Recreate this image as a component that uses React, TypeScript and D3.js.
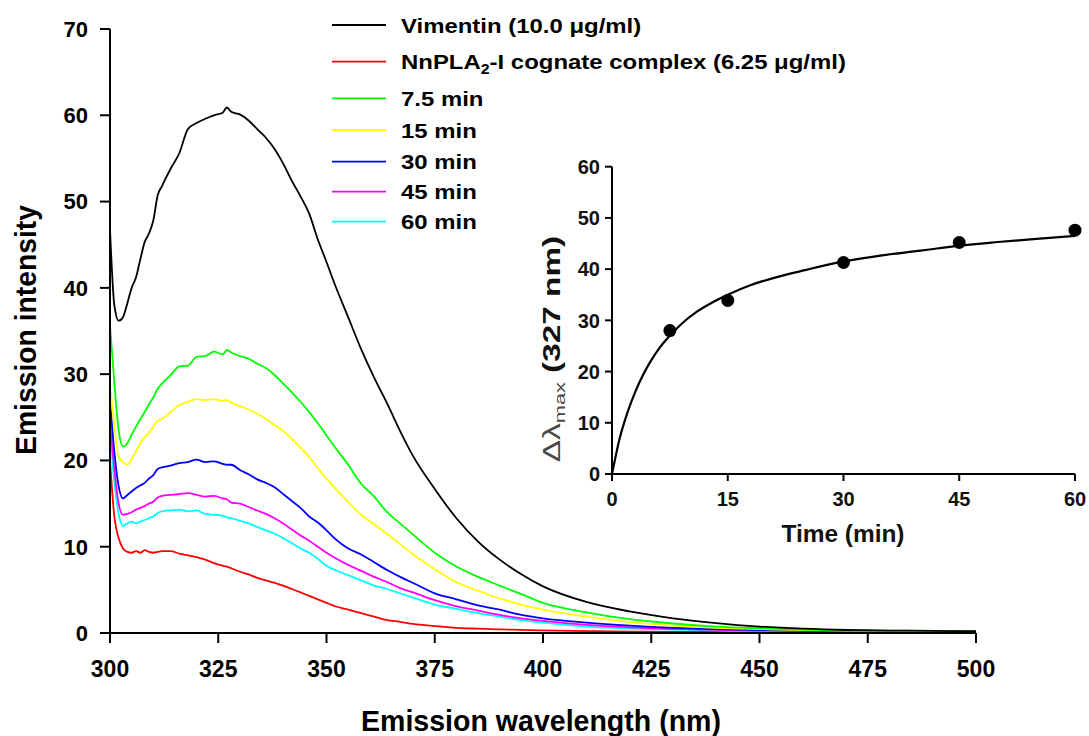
import React from "react";
import * as d3 from "d3";

// ---------- Main spectra data ----------
const wavelengths = [300, 301, 302, 303, 304, 305, 306, 307, 308, 309, 310, 311, 312, 314, 316, 318, 320, 322, 324, 326, 327, 328, 330, 332, 334, 336, 338, 340, 342, 344, 346, 348, 350, 352, 355, 358, 361, 364, 367, 370, 375, 380, 385, 390, 395, 400, 410, 420, 430, 440, 450, 460, 470, 480, 490, 500];

const vimentin = [46.8, 38.0, 36.2, 36.6, 38.2, 40.0, 41.2, 43.3, 45.3, 46.3, 47.8, 50.7, 51.8, 53.8, 55.6, 58.4, 59.1, 59.6, 60.0, 60.3, 60.9, 60.4, 60.1, 59.4, 58.4, 57.4, 56.1, 54.4, 52.4, 50.6, 48.6, 45.6, 43.0, 40.3, 36.6, 32.9, 29.6, 26.6, 23.4, 20.5, 16.7, 13.3, 10.6, 8.5, 6.8, 5.4, 3.6, 2.5, 1.7, 1.15, 0.75, 0.5, 0.35, 0.28, 0.24, 0.2];
const complex = [20.0, 13.5, 11.0, 9.8, 9.4, 9.3, 9.5, 9.3, 9.6, 9.4, 9.3, 9.4, 9.5, 9.5, 9.2, 9.0, 8.8, 8.5, 8.1, 7.8, 7.7, 7.5, 7.1, 6.8, 6.4, 6.1, 5.8, 5.5, 5.1, 4.7, 4.3, 3.9, 3.5, 3.1, 2.7, 2.3, 1.9, 1.5, 1.3, 1.05, 0.8, 0.6, 0.5, 0.42, 0.36, 0.3, 0.22, 0.17, 0.14, 0.12, 0.1, 0.09, 0.08, 0.08, 0.07, 0.07];
const min7_5 = [35.7, 29.0, 23.5, 21.6, 22.0, 23.0, 23.9, 24.8, 25.6, 26.5, 27.3, 28.3, 28.9, 29.9, 30.9, 31.0, 32.0, 32.1, 32.6, 32.3, 32.8, 32.5, 32.1, 31.8, 31.2, 30.7, 29.9, 28.9, 27.9, 26.8, 25.6, 24.3, 22.9, 21.5, 19.5, 17.3, 15.8, 14.0, 12.7, 11.4, 9.3, 7.7, 6.5, 5.5, 4.5, 3.5, 2.4, 1.6, 1.1, 0.75, 0.55, 0.4, 0.32, 0.28, 0.25, 0.22];
const min15 = [29.0, 24.0, 20.5, 19.8, 19.5, 20.2, 21.0, 22.0, 22.7, 23.2, 23.9, 24.6, 24.8, 25.6, 26.4, 26.8, 27.1, 27.0, 27.1, 26.9, 27.0, 26.7, 26.3, 25.9, 25.4, 24.8, 24.1, 23.4, 22.5, 21.5, 20.4, 19.1, 17.9, 16.8, 15.2, 13.7, 12.6, 11.5, 10.3, 9.1, 7.4, 5.9, 4.9, 4.0, 3.3, 2.7, 1.9, 1.25, 0.85, 0.6, 0.45, 0.33, 0.27, 0.24, 0.22, 0.2];
const min30 = [27.0, 21.0, 17.0, 15.6, 16.0, 16.4, 16.8, 17.1, 17.4, 17.9, 18.3, 19.0, 19.2, 19.4, 19.7, 19.8, 20.1, 19.8, 19.9, 19.6, 19.5, 19.5, 18.9, 18.4, 17.8, 17.4, 16.9, 16.1, 15.3, 14.5, 13.5, 12.8, 11.9, 10.9, 9.8, 9.1, 8.2, 7.3, 6.5, 5.8, 4.6, 3.9, 3.2, 2.7, 2.1, 1.7, 1.2, 0.85, 0.6, 0.45, 0.35, 0.27, 0.22, 0.19, 0.17, 0.15];
const min45 = [24.5, 19.0, 15.0, 13.7, 13.8, 14.0, 14.3, 14.5, 14.7, 15.0, 15.2, 15.7, 15.9, 16.0, 16.1, 16.2, 16.0, 15.8, 15.9, 15.6, 15.5, 15.1, 15.0, 14.6, 14.2, 13.8, 13.3, 12.7, 12.0, 11.3, 10.7, 10.0, 9.3, 8.7, 7.9, 7.2, 6.5, 5.9, 5.2, 4.7, 3.8, 3.1, 2.6, 2.1, 1.7, 1.4, 0.93, 0.65, 0.48, 0.36, 0.28, 0.22, 0.18, 0.16, 0.15, 0.14];
const min60 = [23.6, 17.5, 13.8, 12.4, 12.7, 12.9, 12.7, 12.9, 13.1, 13.3, 13.5, 13.9, 14.1, 14.2, 14.3, 14.1, 14.2, 13.8, 13.7, 13.6, 13.4, 13.3, 13.0, 12.7, 12.3, 11.9, 11.5, 11.0, 10.4, 9.8, 9.3, 8.6, 7.8, 7.3, 6.7, 6.1, 5.5, 5.1, 4.6, 4.1, 3.3, 2.8, 2.3, 1.9, 1.5, 1.2, 0.75, 0.52, 0.38, 0.3, 0.24, 0.2, 0.17, 0.15, 0.14, 0.13];

const seriesNames = ["Vimentin", "Complex", "7.5 min", "15 min", "30 min", "45 min", "60 min"];
const seriesColors = ["#000000", "#ff0000", "#00ff00", "#ffff00", "#0000ff", "#ff00ff", "#00ffff"];
const seriesValues = [vimentin, complex, min7_5, min15, min30, min45, min60];

const xTicks = [300, 325, 350, 375, 400, 425, 450, 475, 500];
const yTicks = [0, 10, 20, 30, 40, 50, 60, 70];

// ---------- Inset data ----------
const insetTime = [7.5, 15, 30, 45, 60];
const insetShift = [28.0, 33.9, 41.3, 45.2, 47.6];
const fitTime = [0, 1, 2, 3, 4, 5, 6, 7.5, 9, 11, 13, 15, 18, 21, 25, 30, 35, 40, 45, 50, 55, 60];
const fitShift = [0, 7.0, 12.0, 16.0, 19.3, 22.0, 24.3, 27.0, 29.3, 31.7, 33.5, 35.0, 36.9, 38.3, 39.8, 41.5, 42.7, 43.6, 44.6, 45.3, 45.9, 46.5];
const insetXTicks = [0, 15, 30, 45, 60];
const insetYTicks = [0, 10, 20, 30, 40, 50, 60];

const MU = "\u03BC";
const FONT = "'Liberation Sans', Arial, Helvetica, sans-serif";

export default function App() {
  const x = d3.scaleLinear().domain([300, 500]).range([110, 976]);
  const y = d3.scaleLinear().domain([0, 70]).range([633, 29]);

  const ix = d3.scaleLinear().domain([0, 60]).range([612, 1075]);
  const iy = d3.scaleLinear().domain([0, 60]).range([474, 166.7]);

  const line = d3
    .line<number>()
    .x((_, i) => x(wavelengths[i]))
    .y((d) => y(d))
    .curve(d3.curveMonotoneX);

  const fitLine = d3
    .line<number>()
    .x((_, i) => ix(fitTime[i]))
    .y((d) => iy(d))
    .curve(d3.curveMonotoneX);

  const legendY = [25, 61.7, 98.3, 130, 161.7, 191.7, 221.7];

  // draw order: lower curves first so black sits on top
  const drawOrder = [1, 6, 5, 4, 3, 2, 0];

  return (
    <svg
      width={1089}
      height={736}
      style={{ position: "absolute", left: 0, top: 0, background: "#fff" }}
      fontFamily={FONT}
    >
      <rect x={0} y={0} width={1089} height={736} fill="#fff" />

      {/* curves */}
      {drawOrder.map((k) => (
        <path
          key={seriesNames[k]}
          d={line(seriesValues[k]) || ""}
          fill="none"
          stroke={seriesColors[k]}
          strokeWidth={1.8}
          strokeLinejoin="round"
        />
      ))}

      {/* main axes */}
      <line x1={x(300)} x2={x(300)} y1={y(70)} y2={y(0)} stroke="#000" strokeWidth={2} />
      <line x1={x(300)} x2={x(500)} y1={y(0)} y2={y(0)} stroke="#000" strokeWidth={2} />
      {yTicks.map((t) => (
        <g key={"yt" + t}>
          <line x1={x(300) - 10} x2={x(300)} y1={y(t)} y2={y(t)} stroke="#000" strokeWidth={2} />
          <text x={88} y={y(t)} dy="0.36em" textAnchor="end" fontSize={22} fontWeight="bold">
            {t}
          </text>
        </g>
      ))}
      {xTicks.map((t) => (
        <g key={"xt" + t}>
          <line x1={x(t)} x2={x(t)} y1={y(0)} y2={y(0) + 10} stroke="#000" strokeWidth={2} />
          <text x={x(t)} y={677} textAnchor="middle" fontSize={23} fontWeight="bold">
            {t}
          </text>
        </g>
      ))}
      <text
        x={541}
        y={731}
        textAnchor="middle"
        fontSize={30}
        fontWeight="bold"
        textLength={360}
        lengthAdjust="spacingAndGlyphs"
      >
        Emission wavelength (nm)
      </text>
      <text
        transform="translate(36,330) rotate(-90)"
        textAnchor="middle"
        fontSize={30}
        fontWeight="bold"
        textLength={250}
        lengthAdjust="spacingAndGlyphs"
      >
        Emission intensity
      </text>

      {/* legend */}
      {seriesNames.map((name, i) => (
        <g key={"lg" + name}>
          <line x1={332} x2={386} y1={legendY[i]} y2={legendY[i]} stroke={seriesColors[i]} strokeWidth={1.8} />
          <g transform={`translate(401,${legendY[i] + 7.5}) scale(1.14,1)`}>
            <text x={0} y={0} fontSize={21} fontWeight="bold">
              {i === 0 ? (
                `Vimentin (10.0 ${MU}g/ml)`
              ) : i === 1 ? (
                <>
                  NnPLA
                  <tspan fontSize={14} dy={5}>
                    2
                  </tspan>
                  <tspan dy={-5}>{`-I cognate complex (6.25 ${MU}g/ml)`}</tspan>
                </>
              ) : (
                name
              )}
            </text>
          </g>
        </g>
      ))}

      {/* inset */}
      <path d={fitLine(fitShift) || ""} fill="none" stroke="#000" strokeWidth={2.2} />
      {insetTime.map((t, i) => (
        <circle key={"dot" + t} cx={ix(t)} cy={iy(insetShift[i])} r={6.5} fill="#000" />
      ))}
      <line x1={ix(0)} x2={ix(0)} y1={iy(60)} y2={iy(0)} stroke="#000" strokeWidth={2} />
      <line x1={ix(0)} x2={ix(60)} y1={iy(0)} y2={iy(0)} stroke="#000" strokeWidth={2} />
      {insetYTicks.map((t) => (
        <g key={"iyt" + t}>
          <line x1={ix(0) - 7} x2={ix(0)} y1={iy(t)} y2={iy(t)} stroke="#000" strokeWidth={2} />
          <text x={600} y={iy(t)} dy="0.36em" textAnchor="end" fontSize={20} fontWeight="bold" fill="#111">
            {t}
          </text>
        </g>
      ))}
      {insetXTicks.map((t) => (
        <g key={"ixt" + t}>
          <line x1={ix(t)} x2={ix(t)} y1={iy(0)} y2={iy(0) + 7} stroke="#000" strokeWidth={2} />
          <text x={ix(t)} y={506} textAnchor="middle" fontSize={20} fontWeight="bold" fill="#111">
            {t}
          </text>
        </g>
      ))}
      <text
        x={843}
        y={542}
        textAnchor="middle"
        fontSize={23}
        fontWeight="bold"
        fill="#111"
        textLength={123}
        lengthAdjust="spacingAndGlyphs"
      >
        Time (min)
      </text>
      <g transform="translate(560,349) rotate(-90) scale(1.45,1)">
        <text textAnchor="middle" fontSize={23} fill="#111">
          <tspan fill="#4a4a4a">{"\u0394\u03BB"}</tspan>
          <tspan fontSize={15} dy={5} fill="#4a4a4a">
            max
          </tspan>
          <tspan dy={-5} fontWeight="bold">
            {"  (327 nm)"}
          </tspan>
        </text>
      </g>
    </svg>
  );
}
